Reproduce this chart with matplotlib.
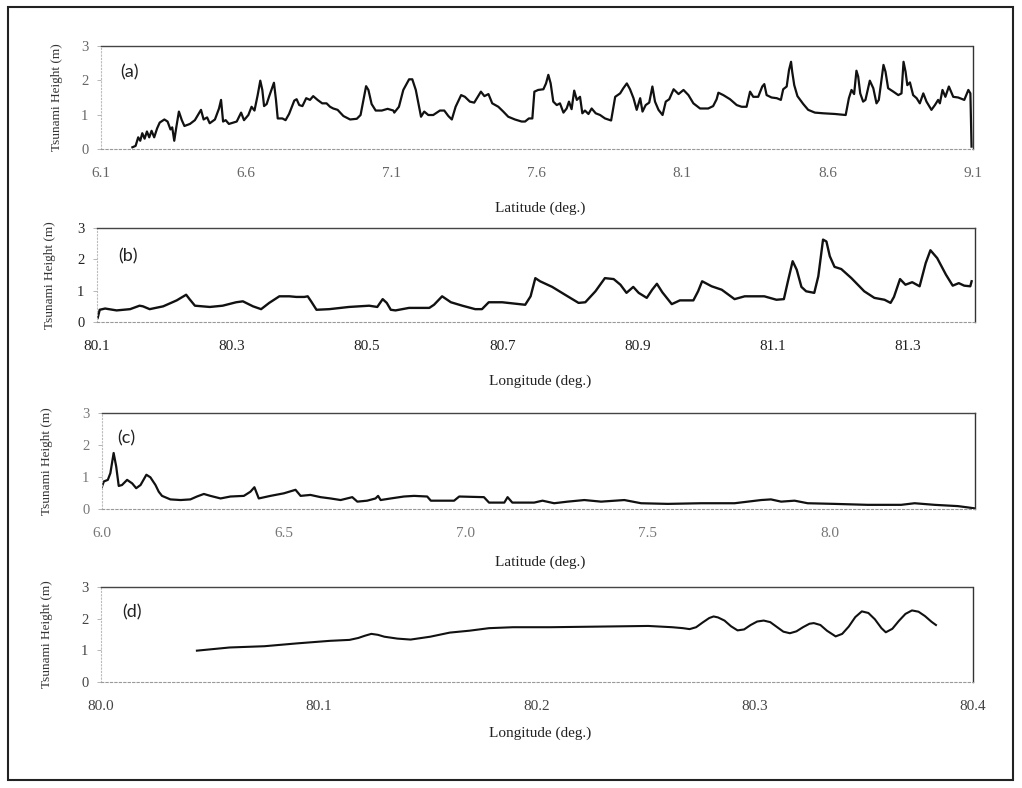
import matplotlib
matplotlib.use("Agg")
import matplotlib.pyplot as plt
from matplotlib.patches import Rectangle

# ---------------- data ----------------
lat_a = [6.208, 6.219, 6.228, 6.235, 6.242, 6.250, 6.258, 6.266, 6.274, 6.283, 6.293, 6.302,
         6.318, 6.329, 6.339, 6.345, 6.352, 6.359, 6.368, 6.378, 6.387, 6.406, 6.423, 6.444,
         6.453, 6.465, 6.474, 6.492, 6.506, 6.513, 6.520, 6.529, 6.540, 6.567, 6.582, 6.592,
         6.607, 6.618, 6.628, 6.639, 6.648, 6.655, 6.661, 6.670, 6.678, 6.695, 6.702, 6.708,
         6.724, 6.735, 6.747, 6.765, 6.773, 6.782, 6.793, 6.806, 6.819, 6.830, 6.845, 6.861,
         6.876, 6.888, 6.899, 6.914, 6.934, 6.957, 6.980, 6.993, 7.002, 7.012, 7.020, 7.031,
         7.045, 7.066, 7.086, 7.106, 7.109, 7.125, 7.140, 7.160, 7.171, 7.183, 7.192, 7.201,
         7.212, 7.226, 7.243, 7.266, 7.281, 7.295, 7.307, 7.320, 7.339, 7.352, 7.369, 7.384,
         7.407, 7.419, 7.433, 7.446, 7.467, 7.484, 7.501, 7.524, 7.547, 7.559, 7.572, 7.584,
         7.591, 7.604, 7.622, 7.631, 7.639, 7.647, 7.656, 7.668, 7.679, 7.691, 7.702, 7.710,
         7.719, 7.728, 7.737, 7.748, 7.756, 7.765, 7.777, 7.788, 7.802, 7.817, 7.834, 7.855,
         7.869, 7.886, 7.897, 7.909, 7.920, 7.932, 7.943, 7.955, 7.963, 7.974, 7.986, 7.997,
         8.006, 8.018, 8.032, 8.043, 8.055, 8.070, 8.087, 8.104, 8.121, 8.138, 8.161, 8.189,
         8.206, 8.218, 8.224, 8.241, 8.264, 8.287, 8.304, 8.321, 8.333, 8.344, 8.361, 8.375,
         8.382, 8.390, 8.407, 8.425, 8.439, 8.447, 8.459, 8.467, 8.474, 8.478, 8.485, 8.496,
         8.516, 8.533, 8.556, 8.585, 8.625, 8.662, 8.673, 8.682, 8.691, 8.699, 8.705, 8.712,
         8.722, 8.730, 8.745, 8.757, 8.768, 8.776, 8.785, 8.792, 8.799, 8.808, 8.826, 8.843,
         8.854, 8.861, 8.868, 8.874, 8.883, 8.894, 8.906, 8.917, 8.929, 8.940, 8.957, 8.969,
         8.980, 8.986, 8.995, 9.005, 9.017, 9.032, 9.049, 9.070, 9.084, 9.091, 9.095]
h_a = [0.05, 0.09, 0.34, 0.24, 0.46, 0.30, 0.51, 0.34, 0.53, 0.34, 0.60, 0.77,
       0.86, 0.80, 0.57, 0.63, 0.24, 0.63, 1.09, 0.84, 0.67, 0.73, 0.84, 1.14,
       0.86, 0.92, 0.75, 0.86, 1.18, 1.43, 0.80, 0.84, 0.73, 0.80, 1.06, 0.84,
       0.99, 1.23, 1.12, 1.57, 1.99, 1.72, 1.25, 1.31, 1.52, 1.93, 1.43, 0.89,
       0.89, 0.84, 1.02, 1.41, 1.45, 1.28, 1.25, 1.48, 1.43, 1.54, 1.43, 1.33,
       1.33, 1.23, 1.18, 1.14, 0.96, 0.86, 0.88, 0.99, 1.38, 1.83, 1.72, 1.31,
       1.12, 1.12, 1.17, 1.12, 1.06, 1.23, 1.72, 2.03, 2.03, 1.72, 1.33, 0.94,
       1.09, 0.99, 0.99, 1.12, 1.12, 0.96, 0.86, 1.23, 1.57, 1.52, 1.38, 1.35,
       1.67, 1.54, 1.60, 1.33, 1.23, 1.09, 0.94, 0.86, 0.80, 0.80, 0.89, 0.89,
       1.67, 1.72, 1.74, 1.91, 2.16, 1.91, 1.38, 1.28, 1.33, 1.06, 1.18, 1.38,
       1.16, 1.70, 1.43, 1.52, 1.04, 1.12, 1.02, 1.18, 1.04, 0.99, 0.89, 0.83,
       1.52, 1.62, 1.77, 1.91, 1.74, 1.48, 1.14, 1.48, 1.09, 1.28, 1.35, 1.82,
       1.38, 1.14, 0.99, 1.38, 1.45, 1.74, 1.60, 1.72, 1.57, 1.33, 1.18, 1.18,
       1.25, 1.45, 1.64, 1.57, 1.45, 1.28, 1.23, 1.23, 1.67, 1.52, 1.52, 1.82,
       1.89, 1.57, 1.50, 1.48, 1.43, 1.74, 1.82, 2.30, 2.54, 2.25, 1.86, 1.54,
       1.31, 1.14, 1.06, 1.04, 1.02, 0.99, 1.48, 1.72, 1.60, 2.28, 2.11, 1.62,
       1.38, 1.43, 1.99, 1.77, 1.33, 1.43, 2.00, 2.45, 2.25, 1.77, 1.67, 1.57,
       1.62, 2.54, 2.25, 1.86, 1.94, 1.57, 1.48, 1.33, 1.62, 1.38, 1.14, 1.28,
       1.43, 1.33, 1.72, 1.52, 1.82, 1.52, 1.50, 1.43, 1.72, 1.62, 0.07]

lon_b = [80.101, 80.104, 80.112, 80.129, 80.149, 80.163, 80.168, 80.178, 80.198, 80.218,
         80.232, 80.237, 80.245, 80.267, 80.286, 80.306, 80.316, 80.331, 80.343, 80.355,
         80.370, 80.385, 80.395, 80.407, 80.412, 80.417, 80.425, 80.444, 80.473, 80.503,
         80.515, 80.523, 80.529, 80.535, 80.542, 80.562, 80.592, 80.599, 80.611, 80.624,
         80.641, 80.660, 80.670, 80.680, 80.700, 80.734, 80.742, 80.749, 80.756, 80.774,
         80.793, 80.813, 80.823, 80.838, 80.852, 80.865, 80.875, 80.884, 80.894, 80.902,
         80.914, 80.922, 80.929, 80.937, 80.951, 80.963, 80.983, 80.990, 80.996, 81.010,
         81.025, 81.044, 81.059, 81.088, 81.106, 81.117, 81.123, 81.130, 81.136, 81.143,
         81.150, 81.162, 81.168, 81.175, 81.180, 81.185, 81.192, 81.202, 81.217, 81.236,
         81.251, 81.266, 81.275, 81.280, 81.289, 81.297, 81.307, 81.318, 81.327, 81.334,
         81.344, 81.357, 81.367, 81.376, 81.384, 81.393, 81.395]
h_b = [0.13, 0.39, 0.43, 0.37, 0.41, 0.52, 0.50, 0.41, 0.50, 0.69,
       0.87, 0.73, 0.52, 0.48, 0.52, 0.63, 0.66, 0.50, 0.41, 0.61,
       0.82, 0.82, 0.80, 0.80, 0.82, 0.66, 0.39, 0.41, 0.48, 0.52,
       0.48, 0.73, 0.61, 0.39, 0.37, 0.45, 0.45, 0.55, 0.82, 0.63,
       0.52, 0.41, 0.41, 0.63, 0.63, 0.55, 0.82, 1.40, 1.30, 1.12,
       0.87, 0.61, 0.63, 0.98, 1.40, 1.37, 1.19, 0.93, 1.12, 0.93,
       0.77, 1.03, 1.22, 0.95, 0.57, 0.69, 0.69, 0.98, 1.30, 1.14,
       1.03, 0.73, 0.82, 0.82, 0.71, 0.73, 1.30, 1.94, 1.67, 1.12,
       0.98, 0.93, 1.46, 2.63, 2.57, 2.10, 1.76, 1.69, 1.40, 0.98,
       0.77, 0.71, 0.61, 0.80, 1.37, 1.19, 1.27, 1.14, 1.88, 2.29,
       2.04, 1.51, 1.16, 1.24, 1.16, 1.14, 1.30]

lat_c = [6.000, 6.005, 6.016, 6.023, 6.032, 6.039, 6.046, 6.055, 6.069, 6.083, 6.094, 6.106,
         6.122, 6.133, 6.147, 6.156, 6.165, 6.188, 6.216, 6.243, 6.261, 6.280, 6.298, 6.326,
         6.353, 6.390, 6.408, 6.419, 6.431, 6.463, 6.500, 6.532, 6.546, 6.573, 6.601, 6.628,
         6.656, 6.688, 6.702, 6.729, 6.752, 6.759, 6.766, 6.794, 6.830, 6.858, 6.894, 6.904,
         6.968, 6.982, 7.050, 7.064, 7.106, 7.115, 7.128, 7.188, 7.211, 7.243, 7.280, 7.326,
         7.372, 7.436, 7.482, 7.555, 7.647, 7.739, 7.812, 7.839, 7.867, 7.904, 7.940, 8.013,
         8.105, 8.197, 8.234, 8.289, 8.353, 8.380, 8.399]
h_c = [0.70, 0.86, 0.91, 1.12, 1.75, 1.33, 0.72, 0.75, 0.91, 0.80, 0.65, 0.75,
       1.07, 0.99, 0.75, 0.54, 0.41, 0.30, 0.28, 0.30, 0.39, 0.47, 0.41, 0.33,
       0.39, 0.41, 0.54, 0.68, 0.33, 0.41, 0.49, 0.60, 0.41, 0.44, 0.37, 0.33,
       0.28, 0.37, 0.23, 0.26, 0.33, 0.41, 0.28, 0.33, 0.39, 0.41, 0.39, 0.26,
       0.26, 0.39, 0.37, 0.20, 0.20, 0.37, 0.20, 0.20, 0.26, 0.18, 0.23, 0.28,
       0.23, 0.28, 0.18, 0.16, 0.18, 0.18, 0.28, 0.30, 0.23, 0.26, 0.18, 0.16,
       0.13, 0.13, 0.18, 0.13, 0.09, 0.05, 0.02]

lon_d = [80.044, 80.059, 80.075, 80.090, 80.105, 80.114, 80.118, 80.121, 80.124, 80.127,
         80.130, 80.136, 80.142, 80.151, 80.160, 80.169, 80.178, 80.189, 80.206, 80.229,
         80.251, 80.262, 80.267, 80.270, 80.273, 80.276, 80.279, 80.281, 80.283, 80.286,
         80.289, 80.292, 80.295, 80.298, 80.301, 80.304, 80.307, 80.310, 80.313, 80.316,
         80.319, 80.322, 80.325, 80.327, 80.330, 80.333, 80.337, 80.340, 80.343, 80.346,
         80.349, 80.352, 80.355, 80.358, 80.360, 80.363, 80.366, 80.369, 80.372, 80.375,
         80.378, 80.381, 80.383]
h_d = [0.99, 1.09, 1.13, 1.22, 1.30, 1.33, 1.39, 1.46, 1.52, 1.49,
       1.43, 1.37, 1.34, 1.43, 1.56, 1.62, 1.70, 1.73, 1.73, 1.75,
       1.77, 1.73, 1.70, 1.67, 1.73, 1.88, 2.02, 2.07, 2.04, 1.94,
       1.76, 1.63, 1.66, 1.80, 1.91, 1.94, 1.89, 1.74, 1.59, 1.54,
       1.60, 1.73, 1.84, 1.86, 1.80, 1.62, 1.44, 1.52, 1.75, 2.05,
       2.23, 2.18, 1.98, 1.70, 1.57, 1.68, 1.93, 2.15, 2.26, 2.22,
       2.08, 1.90, 1.80]

ticks_a = [6.1, 6.6, 7.1, 7.6, 8.1, 8.6, 9.1]
ticks_b = [80.1, 80.3, 80.5, 80.7, 80.9, 81.1, 81.3]
ticks_c = [6.0, 6.5, 7.0, 7.5, 8.0]
ticks_d = [80.0, 80.1, 80.2, 80.3, 80.4]
y_ticks = [0, 1, 2, 3]

# ---------------- figure ----------------
W, H = 1022, 788
fig = plt.figure(figsize=(W / 100, H / 100), dpi=100)
fig.patch.set_facecolor("white")

def rect(l, t, r, b):
    return [l / W, 1 - b / H, (r - l) / W, (b - t) / H]

panels = [
    dict(pos=rect(101, 46, 973, 149), x=lat_a, y=h_a, xlim=(6.1, 9.1), ticks=ticks_a,
         xlabel="Latitude (deg.)", tag="(a)", tagpos=(0.022, 0.74),
         tc="#666666", xlab_y=208, ylab_x=57, lw=1.6),
    dict(pos=rect(97, 228, 975, 322), x=lon_b, y=h_b, xlim=(80.1, 81.4), ticks=ticks_b,
         xlabel="Longitude (deg.)", tag="(b)", tagpos=(0.024, 0.70),
         tc="#222222", xlab_y=381, ylab_x=50, lw=1.7),
    dict(pos=rect(102, 413, 975, 509), x=lat_c, y=h_c, xlim=(6.0, 8.4), ticks=ticks_c,
         xlabel="Latitude (deg.)", tag="(c)", tagpos=(0.018, 0.74),
         tc="#777777", xlab_y=562, ylab_x=47, lw=1.6),
    dict(pos=rect(101, 587, 973, 682), x=lon_d, y=h_d, xlim=(80.0, 80.4), ticks=ticks_d,
         xlabel="Longitude (deg.)", tag="(d)", tagpos=(0.024, 0.73),
         tc="#444444", xlab_y=733, ylab_x=47, lw=1.5),
]

serif = ["Liberation Serif", "DejaVu Serif"]
sans = ["Lato", "Open Sans", "DejaVu Sans"]

for p in panels:
    ax = fig.add_axes(p["pos"])
    ax.plot(p["x"], p["y"], color="#111111", lw=p["lw"], solid_joinstyle="round")
    ax.set_xlim(*p["xlim"])
    ax.set_ylim(0, 3)
    ax.set_xticks(p["ticks"])
    ax.set_xticklabels(["{:.1f}".format(t) for t in p["ticks"]], fontfamily=serif,
                       fontsize=11, color=p["tc"])
    ax.set_yticks(y_ticks)
    ax.set_yticklabels([str(t) for t in y_ticks], fontfamily=serif, fontsize=10.5,
                       color=p["tc"])
    ax.tick_params(axis="x", length=0, pad=13)
    ax.tick_params(axis="y", length=3, width=0.6, color="#aaaaaa", pad=6)
    ax.spines["top"].set_color("#444444")
    ax.spines["top"].set_linewidth(1.0)
    ax.spines["top"].set_linestyle((0, (3, 1)))
    ax.spines["bottom"].set_color("#999999")
    ax.spines["bottom"].set_linewidth(0.8)
    ax.spines["bottom"].set_linestyle((0, (2, 2)))
    ax.spines["left"].set_color("#bbbbbb")
    ax.spines["left"].set_linewidth(0.8)
    ax.spines["left"].set_linestyle((0, (1, 2)))
    ax.spines["right"].set_color("#333333")
    ax.spines["right"].set_linewidth(1.0)
    ax.text(p["tagpos"][0], p["tagpos"][1], p["tag"], transform=ax.transAxes,
            fontfamily=sans, fontsize=13, color="#222222", va="center", ha="left")
    fig.text(540 / W, 1 - p["xlab_y"] / H, p["xlabel"], fontfamily=serif, fontsize=11,
             color="#222222", ha="center", va="center")
    cy = p["pos"][1] + p["pos"][3] / 2
    fig.text(p["ylab_x"] / W, cy, "Tsunami Height (m)", fontfamily=serif, fontsize=9.5,
             color="#333333", rotation=90, ha="center", va="center")

# outer frame
fig.patches.append(Rectangle((8 / W, 1 - 780 / H), (1013 - 8) / W, (780 - 7) / H,
                             transform=fig.transFigure, fill=False, lw=1.5,
                             edgecolor="#222222"))

fig.savefig("out.png", dpi=100)
